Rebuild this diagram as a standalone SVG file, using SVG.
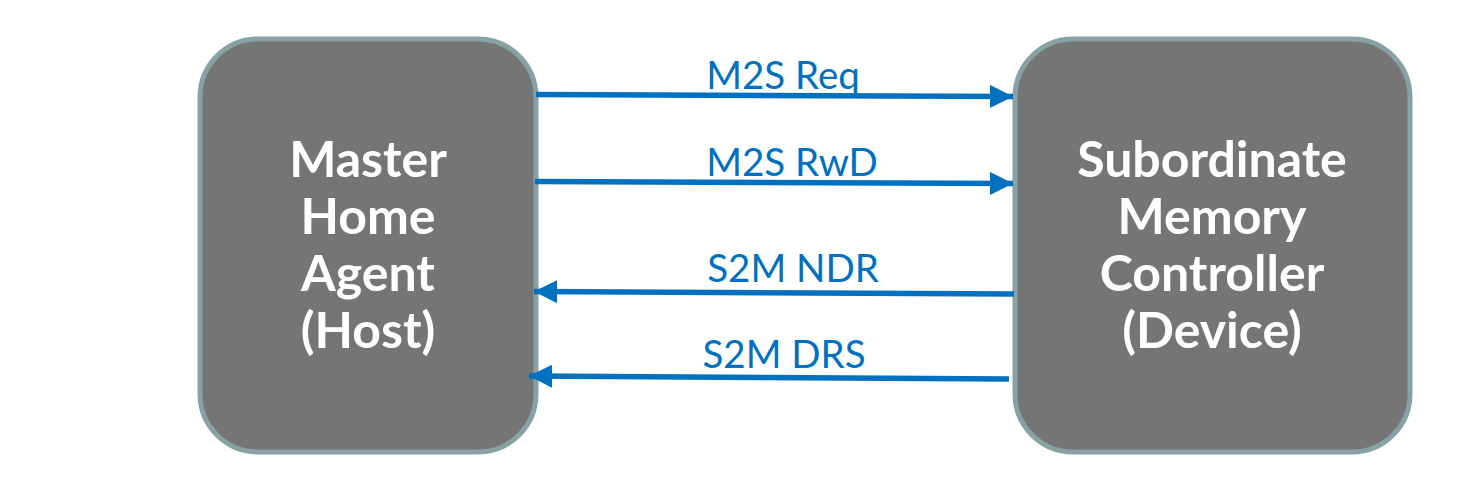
<svg xmlns="http://www.w3.org/2000/svg" width="1471" height="486" viewBox="0 0 1471 486">
<style>
.box{fill:#757575;stroke:#87A1A4;stroke-width:5}
.nt{font-family:Lato,"Open Sans",sans-serif;font-weight:bold;font-size:50px;fill:#ffffff;text-anchor:middle}
.lt{font-family:Lato,"Open Sans",sans-serif;font-size:38.5px;fill:#0070C0;text-anchor:middle}
.ar{stroke:#0070C0;stroke-width:5.5;fill:none}
</style>
<defs>
<marker id="ah" viewBox="0 0 10 10" refX="10" refY="5" markerWidth="4.2" markerHeight="4.2" orient="auto" markerUnits="strokeWidth">
<path d="M0,0 L10,5 L0,10 z" fill="#0070C0"/>
</marker>
</defs>
<rect width="1471" height="486" fill="#ffffff"/>
<g id="host">
<rect class="box" x="200" y="39" width="336" height="413" rx="58" ry="58"/>
<text class="nt" x="368" y="177">Master</text>
<text class="nt" x="368" y="234">Home</text>
<text class="nt" x="368" y="291">Agent</text>
<text class="nt" x="368" y="348">(Host)</text>
</g>
<g id="device">
<rect class="box" x="1015" y="39" width="395" height="413" rx="58" ry="58"/>
<text class="nt" x="1212" y="177">Subordinate</text>
<text class="nt" x="1212" y="234">Memory</text>
<text class="nt" x="1212" y="291">Controller</text>
<text class="nt" x="1212" y="348">(Device)</text>
</g>
<g id="connectors">
<line class="ar" x1="536" y1="94.5" x2="1013" y2="96.5" marker-end="url(#ah)"/>
<line class="ar" x1="535" y1="181.5" x2="1013" y2="183.5" marker-end="url(#ah)"/>
<line class="ar" x1="1014" y1="294" x2="534" y2="291.5" marker-end="url(#ah)"/>
<line class="ar" x1="1009" y1="379" x2="529" y2="376" marker-end="url(#ah)"/>
<text class="lt" x="783" y="89">M2S Req</text>
<text class="lt" x="792" y="176">M2S RwD</text>
<text class="lt" x="793" y="282">S2M NDR</text>
<text class="lt" x="784" y="368">S2M DRS</text>
</g>
</svg>
